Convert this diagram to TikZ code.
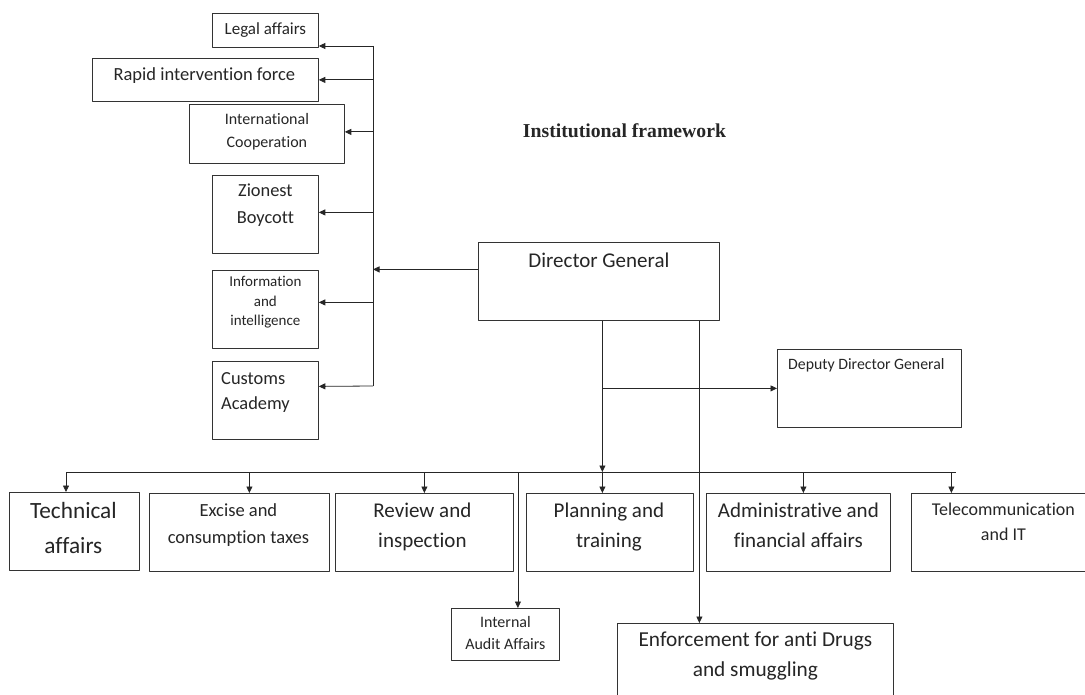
\documentclass[tikz,border=0pt]{standalone}
\usepackage{fontspec}
\setmainfont{Carlito}[Ligatures={NoCommon}]
\newfontfamily\titlefont{Liberation Serif}
\usetikzlibrary{arrows.meta}
\newcommand\fsz[2]{\fontsize{#1}{#2}\selectfont}
\tikzset{
  unit/.style={draw=black!80, line width=.8pt, anchor=north west, inner sep=0pt},
  txt/.style={anchor=north, inner sep=0pt, align=center, text=black!85},
  wire/.style={line width=.8pt, black!85},
  link/.style={wire, -{Triangle[length=6.5pt,width=6pt]}},
}
\begin{document}
\begin{tikzpicture}[x=1pt,y=-1pt,line join=round]
\useasboundingbox (0,0) rectangle (1085,695);
\clip (0,0) rectangle (1085,695);
\fill[white] (0,0) rectangle (1085,695);
\node[txt, font=\titlefont\bfseries\fsz{19.7}{22}] (title) at (624.5,123) {Institutional framework};
% left column
\node[unit, minimum width=106pt, minimum height=34pt] (legal) at (212,13) {};
\node[unit, minimum width=226pt, minimum height=43pt] (rapid) at (92,58) {};
\node[unit, minimum width=155pt, minimum height=59pt] (intl) at (189,104) {};
\node[unit, minimum width=106pt, minimum height=78pt] (zion) at (212,175) {};
\node[unit, minimum width=106pt, minimum height=78pt] (info) at (212,270) {};
\node[unit, minimum width=106pt, minimum height=78pt] (acad) at (212,361) {};
\node[txt, font=\fsz{17}{20}] (legal-t) at ([yshift=-9pt]legal.north) {Legal affairs};
\node[txt, font=\fsz{18.5}{22}] (rapid-t) at ([yshift=-9pt,xshift=-1pt]rapid.north) {Rapid intervention force};
\node[txt, font=\fsz{16}{23}] (intl-t) at ([yshift=-9pt]intl.north) {International\\Cooperation};
\node[txt, font=\fsz{18.4}{27}] (zion-t) at ([yshift=-9pt]zion.north) {Zionest\\Boycott};
\node[txt, font=\fsz{15}{19.5}] (info-t) at ([yshift=-6pt]info.north) {Information\\and\\intelligence};
\node[txt, font=\fsz{18.4}{25.5}, anchor=north west, align=left] (acad-t) at (221,372) {Customs\\Academy};
% centre
\node[unit, minimum width=241pt, minimum height=78pt] (dg) at (478,242) {};
\node[unit, minimum width=184pt, minimum height=78pt] (dep) at (777,349) {};
\node[txt, font=\fsz{21}{25}] (dg-t) at ([yshift=-11pt]dg.north) {Director General};
\node[txt, font=\fsz{15.8}{19}, anchor=north west, align=left] (dep-t) at (788,358) {Deputy Director General};
% bottom row
\node[unit, minimum width=130pt, minimum height=78pt] (tech) at (9,492) {};
\node[unit, minimum width=180pt, minimum height=78pt] (excise) at (149,493) {};
\node[unit, minimum width=178pt, minimum height=78pt] (review) at (335,493) {};
\node[unit, minimum width=167pt, minimum height=78pt] (plan) at (526,493) {};
\node[unit, minimum width=184pt, minimum height=78pt] (admin) at (706,493) {};
\node[unit, minimum width=180pt, minimum height=78pt] (tele) at (911,493) {};
\node[unit, minimum width=108pt, minimum height=52pt] (audit) at (451,608) {};
\node[unit, minimum width=276pt, minimum height=90pt] (enf) at (617,623) {};
\node[txt, font=\fsz{23.3}{35}] (tech-t) at ([yshift=-10pt,xshift=-1pt]tech.north) {Technical\\affairs};
\node[txt, font=\fsz{18.5}{27}] (excise-t) at ([yshift=-10pt,xshift=-1pt]excise.north) {Excise and\\consumption taxes};
\node[txt, font=\fsz{21}{30}] (review-t) at ([yshift=-10pt,xshift=-2pt]review.north) {Review and\\inspection};
\node[txt, font=\fsz{21}{30}] (plan-t) at ([yshift=-10pt,xshift=-1pt]plan.north) {Planning and\\training};
\node[txt, font=\fsz{21}{30}] (admin-t) at ([yshift=-10pt]admin.north) {Administrative and\\financial affairs};
\node[txt, font=\fsz{18}{25}] (tele-t) at ([yshift=-10pt,xshift=2pt]tele.north) {Telecommunication\\and IT};
\node[txt, font=\fsz{16}{22}] (audit-t) at ([yshift=-8pt]audit.north) {Internal\\Audit Affairs};
\node[txt, font=\fsz{21.3}{30}] (enf-t) at ([yshift=-9pt]enf.north) {Enforcement for anti Drugs\\and smuggling};
% connectors
\coordinate (lb-top) at (373,46);
\coordinate (lb-bot) at (373,386);
\coordinate (dga) at ([xshift=3.5pt]dg.south);
\coordinate (dgb) at ([xshift=100.5pt]dg.south);
\coordinate (busl) at (66,472);
\coordinate (busr) at (956,472);
\coordinate (exc-top) at ([xshift=10pt]excise.north);
\coordinate (adm-top) at ([xshift=5pt]admin.north);
\coordinate (tel-top) at ([xshift=-50pt]tele.north);
\coordinate (aud-top) at ([xshift=12.5pt]audit.north);
\coordinate (dg-w) at ([yshift=12pt]dg.west);
\coordinate (info-e) at ([yshift=7pt]info.east);
\coordinate (acad-e) at ([yshift=14pt]acad.east);
\coordinate (intl-e) at ([yshift=2pt]intl.east);
\coordinate (zion-e) at ([yshift=2pt]zion.east);
\draw[wire] (lb-top) -- (lb-bot);
\draw[link] (lb-top) -- (lb-top -| legal.east);
\draw[link] (rapid.east -| lb-top) -- (rapid.east);
\draw[link] (intl-e -| lb-top) -- (intl-e);
\draw[link] (zion-e -| lb-top) -- (zion-e);
\draw[link] (info-e -| lb-top) -- (info-e);
\draw[link] (lb-bot) -- (acad-e);
\draw[link] (dg-w) -- (dg-w -| lb-top);
\draw[wire] (busl) -- (busr);
\draw[link] (dga) -- (dga |- busl);
\draw[link] (dga |- busl) -- (dga |- plan.north);
\draw[link] (dep.west -| dga) -- (dep.west);
\draw[link] (dgb) -- (dgb |- enf.north);
\draw[link] (busl) -- (busl |- tech.north);
\draw[link] (exc-top |- busl) -- (exc-top);
\draw[link] (review.north |- busl) -- (review.north);
\draw[link] (adm-top |- busl) -- (adm-top);
\draw[link] (tel-top |- busl) -- (tel-top);
\draw[link] (aud-top |- busl) -- (aud-top);
\end{tikzpicture}
\end{document}
